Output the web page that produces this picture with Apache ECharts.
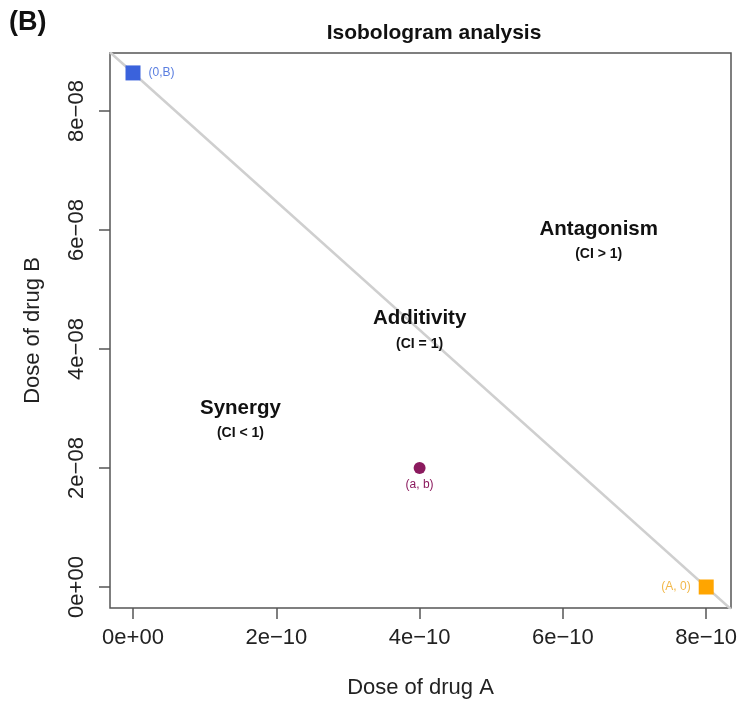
<!DOCTYPE html>
<html>
<head>
<meta charset="utf-8">
<script src="https://cdn.jsdelivr.net/npm/echarts@6/dist/echarts.min.js"></script>
<style>
html,body{margin:0;padding:0;background:#fff;}
#chart{width:741px;height:702px;}
</style>
</head>
<body>
<div id="chart"></div>
<script>
// ---- data ----
var doseA = 8e-10;            // (A, 0)
var doseB = 8.64e-8;          // (0, B)
var comboPoint = [4e-10, 2e-8]; // (a, b)
var xTicks = [0, 2e-10, 4e-10, 6e-10, 8e-10];
var xTickLabels = ['0e+00', '2e\u221210', '4e\u221210', '6e\u221210', '8e\u221210'];
var yTicks = [0, 2e-8, 4e-8, 6e-8, 8e-8];
var yTickLabels = ['0e+00', '2e\u221208', '4e\u221208', '6e\u221208', '8e\u221208'];
var regionNames = ['Synergy', 'Additivity', 'Antagonism'];
var regionSubs = ['(CI < 1)', '(CI = 1)', '(CI > 1)'];
var regionX = [1.5e-10, 4e-10, 6.5e-10];
var regionY = [3e-8, 4.5e-8, 6e-8];
var xRange = [-3.21e-11, 8.346e-10];
var yRange = [-0.353e-8, 8.975e-8];

// ---- chart ----
var FONT = '"Liberation Sans", Arial, Helvetica, sans-serif';
function pickLabel(ticks, labels, v) {
  var best = 0, bd = Infinity;
  for (var i = 0; i < ticks.length; i++) {
    var d = Math.abs(ticks[i] - v);
    if (d < bd) { bd = d; best = i; }
  }
  return labels[best];
}
// isobole line y = B (1 - x / A), across the visible x range
var isobole = xRange.map(function (x) { return [x, doseB * (1 - x / doseA)]; });

var regionData = regionX.map(function (x, i) {
  return { value: [x, regionY[i]], name: regionNames[i], sub: regionSubs[i] };
});

var chart = echarts.init(document.getElementById('chart'), null, { renderer: 'canvas' });
chart.setOption({
  backgroundColor: '#ffffff',
  animation: false,
  textStyle: { fontFamily: FONT },
  title: {
    text: 'Isobologram analysis',
    left: 429, top: 18,
    textAlign: 'center',
    textStyle: { fontFamily: FONT, fontSize: 21, fontWeight: 'bold', color: '#111' }
  },
  graphic: [{
    type: 'text', left: 9, top: 9,
    style: { text: '(B)', font: 'bold 27px ' + FONT, fill: '#111' }
  }],
  grid: {
    left: 110, right: 10, top: 53, bottom: 94,
    outerBoundsMode: 'none', containLabel: false,
    show: true, borderColor: '#555', borderWidth: 1.5, backgroundColor: 'transparent'
  },
  xAxis: {
    type: 'value', min: xRange[0], max: xRange[1],
    name: 'Dose of drug A', nameLocation: 'middle', nameGap: 69,
    nameTextStyle: { fontFamily: FONT, fontSize: 22, color: '#222' },
    axisLine: { show: false, onZero: false },
    splitLine: { show: false },
    axisTick: { show: true, inside: false, length: 11, customValues: xTicks,
      lineStyle: { color: '#555', width: 1.5 } },
    axisLabel: { customValues: xTicks, margin: 19, fontFamily: FONT, fontSize: 22, color: '#222',
      formatter: function (v) { return pickLabel(xTicks, xTickLabels, v); } }
  },
  yAxis: {
    type: 'value', min: yRange[0], max: yRange[1],
    name: 'Dose of drug B', nameLocation: 'middle', nameGap: 66,
    nameTextStyle: { fontFamily: FONT, fontSize: 22, color: '#222' },
    axisLine: { show: false, onZero: false },
    splitLine: { show: false },
    axisTick: { show: true, inside: false, length: 11, customValues: yTicks,
      lineStyle: { color: '#555', width: 1.5 } },
    axisLabel: { customValues: yTicks, rotate: 90, margin: 22, fontFamily: FONT, fontSize: 22, color: '#222',
      formatter: function (v) { return pickLabel(yTicks, yTickLabels, v); } }
  },
  series: [
    {
      type: 'line', data: isobole, showSymbol: false, symbol: 'none', clip: true, silent: true,
      lineStyle: { color: '#cfcfcf', width: 2.5 }, z: 1
    },
    {
      type: 'scatter', data: [[0, doseB]], symbol: 'rect', symbolSize: 15, z: 3,
      itemStyle: { color: '#3a62dc', opacity: 1 },
      label: { show: true, position: 'right', distance: 8, formatter: '(0,B)',
        fontFamily: FONT, fontSize: 12, color: '#5a7ee0' }
    },
    {
      type: 'scatter', data: [[doseA, 0]], symbol: 'rect', symbolSize: 15, z: 3,
      itemStyle: { color: '#ffa500', opacity: 1 },
      label: { show: true, position: 'left', distance: 8, formatter: '(A, 0)',
        fontFamily: FONT, fontSize: 12, color: '#f2b84a' }
    },
    {
      type: 'scatter', data: [comboPoint], symbol: 'circle', symbolSize: 12, z: 3,
      itemStyle: { color: '#8b1a5e', opacity: 1 },
      label: { show: true, position: 'bottom', distance: 5, formatter: '(a, b)',
        fontFamily: FONT, fontSize: 12, color: '#8b1a5e' }
    },
    {
      type: 'scatter', data: regionData, symbolSize: 0, silent: true, z: 4,
      itemStyle: { color: 'transparent', opacity: 1 },
      label: {
        show: true, position: 'inside', offset: [0, 12],
        formatter: function (p) { return '{a|' + p.data.name + '}\n{b|' + p.data.sub + '}'; },
        rich: {
          a: { fontFamily: FONT, fontSize: 20.5, fontWeight: 'bold', color: '#111', lineHeight: 25, align: 'center' },
          b: { fontFamily: FONT, fontSize: 14, fontWeight: 'bold', color: '#111', lineHeight: 25, align: 'center' }
        }
      }
    }
  ]
});
</script>
</body>
</html>
